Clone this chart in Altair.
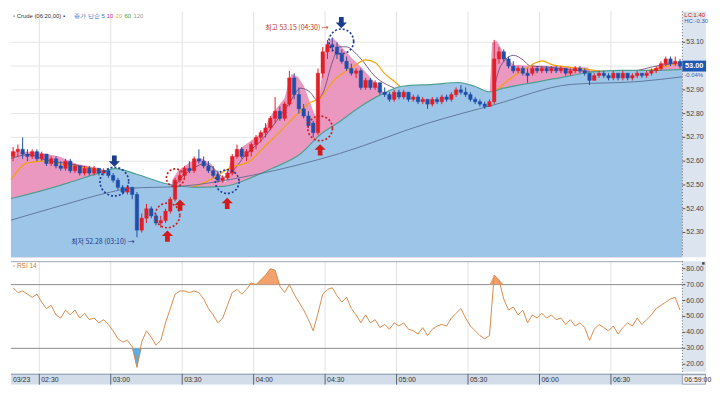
import altair as alt
import pandas as pd

# ---------------- data ----------------
# bar centres in minutes after 00:00 (2-minute candles, 02:19 ... 06:59)
times = list(range(139, 420, 2))

opens = [52.62, 52.64, 52.65, 52.63, 52.62, 52.64, 52.61, 52.63, 52.59, 52.61,
         52.58, 52.57, 52.60, 52.56, 52.58, 52.55, 52.57, 52.55, 52.57, 52.55,
         52.56, 52.54, 52.52, 52.49, 52.47, 52.49, 52.46, 52.31, 52.36, 52.40,
         52.37, 52.34, 52.35, 52.39, 52.44, 52.52, 52.54, 52.57, 52.56, 52.61,
         52.60, 52.58, 52.56, 52.54, 52.52, 52.53, 52.55, 52.62, 52.65, 52.62,
         52.64, 52.67, 52.70, 52.72, 52.74, 52.78, 52.81, 52.78, 52.84, 52.95,
         52.88, 52.82, 52.79, 52.76, 52.72, 52.97, 53.06, 53.09, 53.08, 53.05,
         53.02, 52.99, 52.97, 52.98, 52.91, 52.94, 52.91, 52.93, 52.89, 52.88,
         52.86, 52.89, 52.87, 52.89, 52.86, 52.87, 52.85, 52.86, 52.84, 52.86,
         52.85, 52.87, 52.86, 52.88, 52.90, 52.89, 52.88, 52.86, 52.85, 52.84,
         52.83, 52.85, 53.03, 53.06, 53.03, 53.00, 52.98, 52.99, 52.97, 52.97,
         52.99, 52.98, 52.99, 52.98, 52.99, 52.98, 52.99, 52.97, 52.98, 52.99,
         52.98, 52.97, 52.94, 52.96, 52.97, 52.96, 52.95, 52.97, 52.95, 52.97,
         52.95, 52.96, 52.97, 52.96, 52.97, 52.98, 52.99, 53.01, 53.03, 53.01,
         53.02]
highs = [52.66, 52.67, 52.70, 52.65, 52.65, 52.65, 52.64, 52.63, 52.62, 52.62,
         52.60, 52.61, 52.61, 52.59, 52.58, 52.58, 52.58, 52.58, 52.57, 52.57,
         52.57, 52.55, 52.53, 52.50, 52.50, 52.49, 52.47, 52.38, 52.42, 52.41,
         52.38, 52.37, 52.40, 52.45, 52.53, 52.56, 52.58, 52.60, 52.62, 52.65,
         52.62, 52.60, 52.58, 52.56, 52.54, 52.56, 52.63, 52.67, 52.66, 52.65,
         52.68, 52.71, 52.73, 52.76, 52.79, 52.87, 52.83, 52.85, 52.98, 52.97,
         52.91, 52.84, 52.81, 52.77, 52.99, 53.08, 53.11, 53.12, 53.10, 53.07,
         53.04, 53.01, 52.99, 52.99, 52.95, 52.95, 52.94, 52.93, 52.91, 52.89,
         52.90, 52.90, 52.90, 52.89, 52.88, 52.88, 52.87, 52.86, 52.87, 52.87,
         52.88, 52.88, 52.89, 52.91, 52.92, 52.91, 52.89, 52.87, 52.86, 52.85,
         52.86, 53.11, 53.08, 53.07, 53.04, 53.02, 53.00, 53.00, 52.99, 53.00,
         53.00, 53.00, 53.00, 53.00, 53.00, 53.00, 52.99, 52.99, 53.00, 53.00,
         52.99, 52.97, 52.97, 52.98, 52.98, 52.97, 52.98, 52.97, 52.98, 52.97,
         52.97, 52.98, 52.97, 52.98, 52.99, 53.00, 53.02, 53.04, 53.04, 53.04,
         53.03]
lows = [52.60, 52.62, 52.61, 52.60, 52.61, 52.60, 52.60, 52.58, 52.58, 52.57,
        52.56, 52.56, 52.55, 52.55, 52.54, 52.54, 52.54, 52.54, 52.54, 52.54,
        52.53, 52.51, 52.48, 52.46, 52.46, 52.44, 52.28, 52.30, 52.34, 52.36,
        52.33, 52.32, 52.34, 52.38, 52.43, 52.51, 52.53, 52.55, 52.55, 52.59,
        52.57, 52.55, 52.53, 52.51, 52.51, 52.52, 52.54, 52.61, 52.61, 52.60,
        52.62, 52.65, 52.68, 52.70, 52.73, 52.76, 52.77, 52.77, 52.83, 52.86,
        52.80, 52.78, 52.74, 52.70, 52.71, 52.95, 53.03, 53.06, 53.03, 53.01,
        52.98, 52.96, 52.95, 52.90, 52.90, 52.90, 52.90, 52.88, 52.87, 52.85,
        52.85, 52.86, 52.86, 52.85, 52.85, 52.84, 52.84, 52.82, 52.83, 52.84,
        52.84, 52.85, 52.85, 52.87, 52.88, 52.87, 52.85, 52.84, 52.83, 52.82,
        52.83, 52.84, 53.01, 53.02, 52.99, 52.97, 52.97, 52.96, 52.93, 52.96,
        52.97, 52.97, 52.97, 52.97, 52.97, 52.97, 52.96, 52.96, 52.97, 52.97,
        52.96, 52.92, 52.94, 52.95, 52.95, 52.94, 52.94, 52.94, 52.94, 52.94,
        52.94, 52.95, 52.95, 52.95, 52.96, 52.97, 52.98, 53.00, 53.00, 53.00,
        52.99]
closes = [52.64, 52.65, 52.63, 52.62, 52.64, 52.61, 52.63, 52.59, 52.61, 52.58,
          52.57, 52.60, 52.56, 52.58, 52.55, 52.57, 52.55, 52.57, 52.55, 52.56,
          52.54, 52.52, 52.49, 52.47, 52.49, 52.46, 52.31, 52.36, 52.40, 52.37,
          52.34, 52.35, 52.39, 52.44, 52.52, 52.54, 52.57, 52.56, 52.61, 52.60,
          52.58, 52.56, 52.54, 52.52, 52.53, 52.55, 52.62, 52.65, 52.62, 52.64,
          52.67, 52.70, 52.72, 52.74, 52.78, 52.81, 52.78, 52.84, 52.95, 52.88,
          52.82, 52.79, 52.75, 52.72, 52.97, 53.06, 53.09, 53.08, 53.05, 53.02,
          52.99, 52.97, 52.98, 52.91, 52.94, 52.91, 52.93, 52.89, 52.88, 52.86,
          52.89, 52.87, 52.89, 52.86, 52.87, 52.85, 52.86, 52.84, 52.86, 52.85,
          52.87, 52.86, 52.88, 52.90, 52.89, 52.88, 52.86, 52.85, 52.84, 52.83,
          52.85, 53.03, 53.06, 53.03, 53.00, 52.98, 52.99, 52.97, 52.96, 52.99,
          52.98, 52.99, 52.98, 52.99, 52.98, 52.99, 52.97, 52.98, 52.99, 52.98,
          52.97, 52.94, 52.96, 52.97, 52.96, 52.95, 52.97, 52.95, 52.97, 52.95,
          52.96, 52.97, 52.96, 52.97, 52.98, 52.99, 53.01, 53.03, 53.01, 53.02,
          53.00]
rsi = [68, 65, 66, 64, 62, 64, 59, 55, 57, 51,
       49, 54, 51, 54, 49, 52, 48, 49, 46, 48,
       45, 41, 36, 34, 35, 31, 18, 34, 41, 37,
       32, 35, 46, 55, 64, 66, 66, 65, 66, 65,
       61, 55, 51, 46, 49, 57, 65, 67, 64, 67,
       71, 70, 73, 76, 80, 79, 69, 65, 70, 64,
       59, 54, 48, 41, 52, 64, 67, 68, 63, 59,
       62, 55, 51, 46, 51, 46, 48, 43, 45, 42,
       46, 44, 46, 42, 41, 39, 43, 38, 42, 44,
       45, 44, 49, 52, 55, 49, 44, 41, 38, 36,
       38, 76, 73, 61, 54, 56, 51, 54, 46, 51,
       49, 52, 49, 51, 48, 49, 45, 48, 44, 46,
       43, 35, 42, 45, 43, 41, 44, 39, 43, 46,
       44, 49, 45, 48, 51, 55, 57, 59, 61, 62,
       54]

# moving averages / bands read as knots (minute, price)
ma60_t = [138.1, 150.3, 162.5, 174.6, 181.9, 190.9, 203.0, 215.2, 227.4, 239.5, 247.6, 259.8, 267.9, 276.0,
          284.1, 294.3, 302.4, 315.4, 325.9, 332.8, 338.9, 345.0, 353.1, 366.5, 381.5, 393.7, 407.1, 420.0]
ma60_p = [52.443, 52.474, 52.510, 52.549, 52.569, 52.545, 52.506, 52.490, 52.494, 52.533, 52.569, 52.632, 52.711, 52.766,
          52.825, 52.884, 52.915, 52.923, 52.931, 52.915, 52.892, 52.907, 52.923, 52.947, 52.974, 52.982, 52.982, 52.986]
ma120_t = [138.1, 158.4, 179.9, 188.0, 209.1, 239.5, 276.0, 312.5, 340.9, 373.4, 401.8, 420.0]
ma120_p = [52.352, 52.411, 52.470, 52.486, 52.494, 52.541, 52.632, 52.758, 52.837, 52.923, 52.935, 52.955]
ma20_t = [138.1, 145.0, 151.5, 162.5, 175.8, 182.7, 194.9, 207.1, 216.4, 223.3, 230.2, 238.3, 243.6, 250.5,
          257.0, 263.9, 267.9, 273.2, 281.3, 287.0, 291.1, 295.1, 299.1, 302.4, 312.5, 324.7, 332.8, 339.7,
          346.2, 353.1, 358.4, 361.2, 365.3, 373.4, 380.3, 385.6, 397.8, 407.9, 414.0, 420.0]
ma20_p = [52.522, 52.593, 52.600, 52.581, 52.561, 52.530, 52.482, 52.474, 52.498, 52.530, 52.573, 52.600, 52.652, 52.719,
          52.785, 52.848, 52.864, 52.935, 52.994, 53.026, 53.014, 52.967, 52.935, 52.907, 52.876, 52.876, 52.876, 52.884,
          52.935, 52.982, 53.014, 53.022, 53.006, 52.994, 52.986, 52.978, 52.974, 52.986, 53.002, 53.014]
ma10_t = [138.1, 146.2, 151.5, 162.5, 174.6, 182.7, 190.9, 199.0, 205.1, 209.9, 215.2, 219.2, 223.3, 227.4,
          231.4, 236.7, 243.6, 248.8, 254.5, 259.8, 263.9, 266.7, 269.1, 273.2, 276.0, 278.8, 284.1, 291.1,
          299.1, 308.4, 320.6, 330.7, 338.9, 343.8, 349.1, 353.1, 355.9, 365.3, 381.5, 397.8, 410.0, 420.0]
ma10_p = [52.612, 52.628, 52.608, 52.589, 52.561, 52.522, 52.463, 52.443, 52.474, 52.533, 52.573, 52.589, 52.569, 52.533,
          52.561, 52.628, 52.691, 52.758, 52.837, 52.907, 52.888, 52.856, 52.888, 53.022, 53.081, 53.081, 53.041, 52.955,
          52.907, 52.876, 52.884, 52.888, 52.868, 53.002, 53.045, 53.026, 53.002, 52.994, 52.978, 52.978, 53.002, 53.014]
pink_t = [138.1, 148.3, 158.4, 165.3, 175.8, 178.7, 182.7, 190.9, 199.0, 204.2, 205.9, 208.3, 214.0, 218.0,
          222.1, 226.1, 228.2, 230.2, 234.3, 239.5, 243.6, 247.6, 252.9, 255.8, 258.6, 261.1, 265.1, 266.7,
          267.9, 269.1, 270.7, 273.2, 281.3, 285.3, 294.3, 298.3, 308.4, 324.7, 332.8, 338.9, 340.1, 342.2,
          346.2, 349.1, 354.3, 360.0, 380.3, 382.8, 389.7, 405.9, 411.1, 415.2, 420.0]
pink_p = [52.640, 52.640, 52.620, 52.589, 52.569, 52.557, 52.502, 52.325, 52.344, 52.443, 52.522, 52.561, 52.600, 52.612,
          52.589, 52.533, 52.510, 52.600, 52.652, 52.691, 52.719, 52.797, 52.864, 52.967, 52.955, 52.915, 52.809, 52.770,
          52.888, 53.022, 53.100, 53.120, 53.033, 52.994, 52.892, 52.856, 52.856, 52.876, 52.856, 52.844, 53.100, 53.104,
          53.033, 53.006, 53.002, 53.002, 52.994, 52.955, 52.970, 52.970, 53.010, 53.018, 53.006]

# annotations (dotted circles and arrows)
circ_t = [181.5, 203.8, 207.1, 228.9, 267.9, 276.8]
circ_p = [52.514, 52.372, 52.530, 52.514, 52.738, 53.104]
circ_c = ["#1f3d99", "#cc2020", "#cc2020", "#1f3d99", "#cc2020", "#1f3d99"]
circ_d = [29, 25, 18, 24, 25, 25]
up_t = [203.8, 209.1, 228.9, 267.9]
up_p = [52.285, 52.415, 52.423, 52.648]
dn_t = [181.5, 276.8]
dn_p = [52.600, 53.183]

price_ticks = [52.30, 52.40, 52.50, 52.60, 52.70, 52.80, 52.90, 53.10]
rsi_ticks = [80, 70, 60, 50, 40, 30, 20]
time_ticks = [150, 180, 210, 240, 270, 300, 330, 360, 390]
time_labels = ["02:30", "03:00", "03:30", "04:00", "04:30", "05:00", "05:30", "06:00", "06:30"]

# ---------------- styling ----------------
W, HM, HR, HA, BW = 680, 249, 112, 11, 704
RED, BLUEC = "#e41e26", "#1f4fa8"
PINK, BLUEA, TEAL = "#ea98c0", "#9dc5e8", "#4f9f90"
FONT, KFONT = "Liberation Sans", "Noto Sans CJK KR"
PMIN = 52.196
XS = alt.Scale(domain=[138.1, 420.0], nice=False, zero=False)
YS = alt.Scale(domain=[PMIN, 53.230], nice=False, zero=False)
RS = alt.Scale(domain=[15.3, 84.7], nice=False, zero=False)


def X(f="t"):
    return alt.X(f"{f}:Q", scale=XS, axis=None)


def Y(f="p"):
    return alt.Y(f"{f}:Q", scale=YS, axis=None)


def R(f="r"):
    return alt.Y(f"{f}:Q", scale=RS, axis=None)


one = pd.DataFrame({"k": [0]})
tdf = pd.DataFrame({"t": time_ticks, "lab": time_labels})

# ---------------- main panel ----------------
vgrid = alt.Chart(tdf).mark_rule(color="#e2e2e2", strokeWidth=1).encode(x=X())
hgrid = alt.Chart(pd.DataFrame({"p": price_ticks + [53.0]})).mark_rule(color="#e6e6e6").encode(y=Y())

pink = alt.Chart(pd.DataFrame({"t": pink_t, "p": pink_p})).mark_area(
    color=PINK, opacity=1, interpolate="linear").encode(x=X(), y=Y(), y2=alt.datum(PMIN))
ma10 = alt.Chart(pd.DataFrame({"t": ma10_t, "p": ma10_p})).mark_line(
    color="#6d4f7e", strokeWidth=0.9, interpolate="monotone").encode(x=X(), y=Y())
ma20 = alt.Chart(pd.DataFrame({"t": ma20_t, "p": ma20_p})).mark_line(
    color="#f2a20c", strokeWidth=1.2, interpolate="monotone").encode(x=X(), y=Y())
blue = alt.Chart(pd.DataFrame({"t": ma60_t, "p": ma60_p})).mark_area(
    color=BLUEA, opacity=1, interpolate="monotone", line={"color": TEAL, "strokeWidth": 1.2}).encode(
    x=X(), y=Y(), y2=alt.datum(PMIN))
ma120 = alt.Chart(pd.DataFrame({"t": ma120_t, "p": ma120_p})).mark_line(
    color="#50678a", strokeWidth=0.8, interpolate="monotone").encode(x=X(), y=Y())

cdf = pd.DataFrame({"t": times, "o": opens, "h": highs, "l": lows, "c": closes})
cbase = alt.Chart(cdf).transform_calculate(
    dir="datum.c >= datum.o ? 'up' : 'down'",
    t0="datum.t - 0.72", t1="datum.t + 0.72",
    top="max(datum.o, datum.c)", bot="min(datum.o, datum.c)")
ccol = alt.Scale(domain=["up", "down"], range=[RED, BLUEC])
wicks = cbase.mark_rule(strokeWidth=1).encode(
    x=X(), y=Y("l"), y2="h:Q", stroke=alt.Stroke("dir:N", scale=ccol, legend=None))
bodies = cbase.mark_rect(strokeWidth=0.5).encode(
    x=X("t0"), x2="t1:Q", y=Y("top"), y2="bot:Q",
    fill=alt.Fill("dir:N", scale=ccol, legend=None),
    stroke=alt.Stroke("dir:N", scale=ccol, legend=None))

circles = alt.Chart(pd.DataFrame({"t": circ_t, "p": circ_p, "c": circ_c, "d": circ_d})).transform_calculate(
    s="datum.d * datum.d").mark_point(
    shape="circle", filled=False, strokeDash=[2, 2], strokeWidth=1.7, opacity=1).encode(
    x=X(), y=Y(), stroke=alt.Stroke("c:N", scale=None), size=alt.Size("s:Q", scale=None))
UP = "M-0.42,1 L0.42,1 L0.42,0 L1,0 L0,-1 L-1,0 L-0.42,0 Z"
DN = "M-0.42,-1 L0.42,-1 L0.42,0 L1,0 L0,1 L-1,0 L-0.42,0 Z"
up_arrows = alt.Chart(pd.DataFrame({"t": up_t, "p": up_p})).mark_point(
    shape=UP, filled=True, size=130, color="#d01c1c", opacity=1, strokeWidth=0).encode(x=X(), y=Y())
dn_arrows = alt.Chart(pd.DataFrame({"t": dn_t, "p": dn_p})).mark_point(
    shape=DN, filled=True, size=130, color="#1a3a8c", opacity=1, strokeWidth=0).encode(x=X(), y=Y())

low_txt = alt.Chart(pd.DataFrame({"t": [190.0], "p": [52.258], "s": ["최저 52.28 (03:10) →"]})).mark_text(
    align="right", baseline="middle", font=KFONT, fontSize=7, color="#1a3a8c").encode(x=X(), y=Y(), text="s:N")
high_txt = alt.Chart(pd.DataFrame({"t": [271.5], "p": [53.160], "s": ["최고 53.15 (04:30) →"]})).mark_text(
    align="right", baseline="middle", font=KFONT, fontSize=7, color="#c0392b").encode(x=X(), y=Y(), text="s:N")

# right price scale
band_m = alt.Chart(one).mark_rect(color="#dbe4ef").encode(
    x=alt.value(W), x2=alt.value(BW), y=alt.value(0), y2=alt.value(HM))
dot_m = alt.Chart(one).mark_rule(color="#666", strokeDash=[1, 2]).encode(
    x=alt.value(W), y=alt.value(0), y2=alt.value(HM))
pdf = pd.DataFrame({"p": price_ticks, "lab": [f"{v:.2f}" for v in price_ticks]})
ptick = alt.Chart(pdf).mark_rule(color="#555").encode(x=alt.value(W), x2=alt.value(W + 3), y=Y())
plab = alt.Chart(pdf).mark_text(align="left", baseline="middle", font=FONT, fontSize=7, color="#444").encode(
    x=alt.value(W + 4), y=Y(), text="lab:N")
last = pd.DataFrame({"p": [closes[-1]], "lab": [f"{closes[-1]:.2f}"], "chg": ["-0.04%"]})
pbox = alt.Chart(last).mark_point(
    shape="M-1,-0.46 L1,-0.46 L1,0.46 L-1,0.46 Z", filled=True, size=576, color="#1c57b5", opacity=1,
    strokeWidth=0).encode(x=alt.value(W + 12), y=Y())
ptxt = alt.Chart(last).mark_text(align="center", baseline="middle", font=FONT, fontSize=7.5,
                                  color="white", fontWeight="bold").encode(x=alt.value(W + 12), y=Y(), text="lab:N")
pchg = alt.Chart(last).mark_text(align="left", baseline="middle", font=FONT, fontSize=6,
                                  color="#2f62c0", dy=9).encode(x=alt.value(W + 2), y=Y(), text="chg:N")
lc = alt.Chart(pd.DataFrame({"s": ["LC:1.40", "HC:-0.30"], "y": [4, 10], "c": ["#d02020", "#2f62c0"]})).mark_text(
    align="left", baseline="middle", font=FONT, fontSize=6).encode(
    x=alt.value(W + 2), y=alt.Y("y:Q", scale=None), text="s:N", color=alt.Color("c:N", scale=None))

hdr = pd.DataFrame({
    "x": [2, 64, 97, 106, 115, 124],
    "s": ["▫ Crude (06:20,00) ▪", "종가 단순 5", "10", "20", "60", "120"],
    "c": ["#333333", "#2f6fd0", "#c0309a", "#d8b020", "#30a040", "#999999"]})
header = alt.Chart(hdr).mark_text(align="left", baseline="middle", font=FONT, fontSize=6).encode(
    x=alt.X("x:Q", scale=None), y=alt.value(5), text="s:N", color=alt.Color("c:N", scale=None))

main = alt.layer(vgrid, hgrid, pink, ma10, ma20, blue, ma120, wicks, bodies, circles, up_arrows, dn_arrows,
                 low_txt, high_txt, band_m, dot_m, ptick, plab, pbox, ptxt, pchg, lc, header).properties(
    width=W, height=HM)

# ---------------- RSI panel ----------------
rdf = pd.DataFrame({"t": times, "r": rsi})
rvgrid = alt.Chart(tdf).mark_rule(color="#e2e2e2").encode(x=X())
rtop = alt.Chart(one).mark_rule(color="#9aa7b8").encode(x=alt.value(0), x2=alt.value(W), y=alt.value(0.5))
rlines = alt.Chart(pd.DataFrame({"v": [70, 30]})).mark_rule(color="#8a8a8a").encode(y=R("v"))
rhi = alt.Chart(rdf).transform_calculate(hi="max(datum.r, 70)").mark_area(color="#f2a06c", opacity=1).encode(
    x=X(), y=R("hi"), y2=alt.datum(70))
rlo = alt.Chart(rdf).transform_calculate(lo="min(datum.r, 30)").mark_area(color="#5daee0", opacity=1).encode(
    x=X(), y=R("lo"), y2=alt.datum(30))
rline = alt.Chart(rdf).mark_line(color="#d98a4a", strokeWidth=1).encode(x=X(), y=R())
band_r = alt.Chart(one).mark_rect(color="#dbe4ef").encode(
    x=alt.value(W), x2=alt.value(BW), y=alt.value(0), y2=alt.value(HR))
dot_r = alt.Chart(one).mark_rule(color="#666", strokeDash=[1, 2]).encode(
    x=alt.value(W), y=alt.value(0), y2=alt.value(HR))
rtdf = pd.DataFrame({"r": rsi_ticks, "lab": [f"{v:.2f}" for v in rsi_ticks]})
rtick = alt.Chart(rtdf).mark_rule(color="#555").encode(x=alt.value(W), x2=alt.value(W + 3), y=R())
rlab = alt.Chart(rtdf).mark_text(align="left", baseline="middle", font=FONT, fontSize=7, color="#444").encode(
    x=alt.value(W + 4), y=R(), text="lab:N")
rname = alt.Chart(pd.DataFrame({"s": ["▫ RSI 14"]})).mark_text(
    align="left", baseline="middle", font=FONT, fontSize=6.5, color="#d07a30").encode(
    x=alt.value(2), y=alt.value(5), text="s:N")
rsq = alt.Chart(one).mark_rect(color="#444").encode(
    x=alt.value(BW - 4), x2=alt.value(BW - 1.5), y=alt.value(1), y2=alt.value(3.5))
rsi_panel = alt.layer(rvgrid, rlines, rhi, rlo, rline, rtop, band_r, dot_r, rtick, rlab, rname, rsq).properties(
    width=W, height=HR)

# ---------------- time axis strip ----------------
axbg = alt.Chart(one).mark_rect(color="#d3dde9").encode(
    x=alt.value(0), x2=alt.value(BW), y=alt.value(0), y2=alt.value(HA))
axtop = alt.Chart(one).mark_rule(color="#8696ab").encode(x=alt.value(0), x2=alt.value(BW), y=alt.value(0.5))
axtick = alt.Chart(tdf).mark_rule(color="#56657a").encode(x=X())
axlab = alt.Chart(tdf).mark_text(align="left", baseline="middle", dx=2, font=FONT, fontSize=7, color="#333").encode(
    x=X(), y=alt.value(HA / 2 + 0.5), text="lab:N")
endbox = alt.Chart(one).mark_rect(color="#eef2f7", stroke="#8696ab", strokeWidth=0.8).encode(
    x=alt.value(W), x2=alt.value(BW - 0.5), y=alt.value(1), y2=alt.value(HA - 0.5))
edge = pd.DataFrame({"x": [2, W + 2], "s": ["03/23", "06:59:00"]})
axedge = alt.Chart(edge).mark_text(align="left", baseline="middle", font=FONT, fontSize=7, color="#333").encode(
    x=alt.X("x:Q", scale=None), y=alt.value(HA / 2 + 0.5), text="s:N")
axis_panel = alt.layer(axbg, axtop, axtick, endbox, axlab, axedge).properties(width=W, height=HA)

chart = alt.vconcat(main, alt.vconcat(rsi_panel, axis_panel, spacing=0), spacing=2).properties(
    padding=0, background="white").configure_view(strokeWidth=0)

chart.save("out.html", embed_options={"renderer": "svg", "actions": False})
